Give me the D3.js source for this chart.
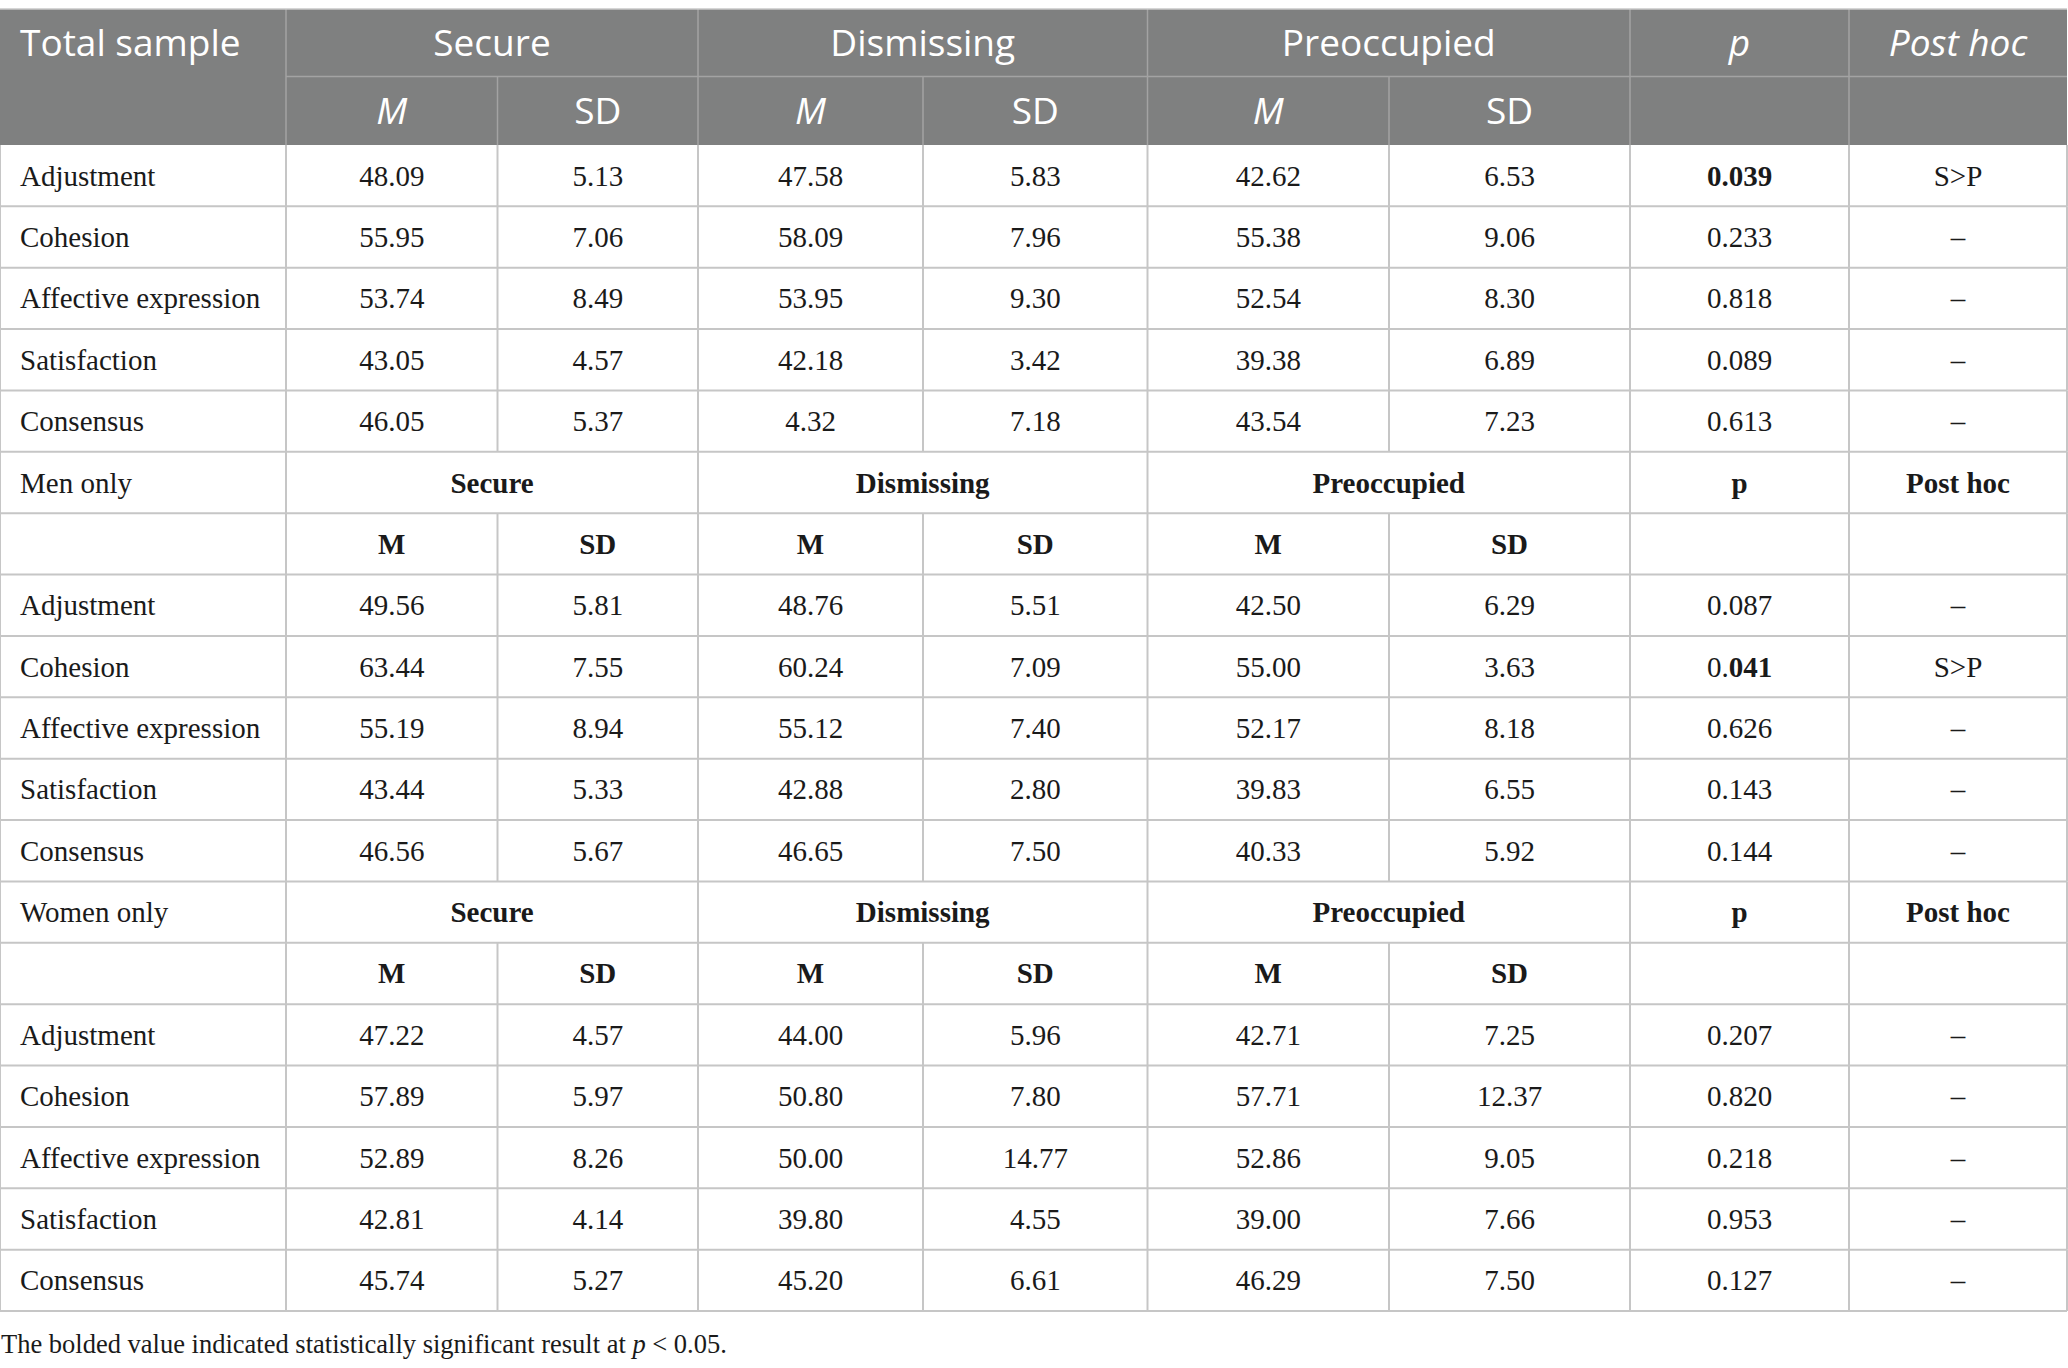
<!DOCTYPE html>
<html>
<head>
<meta charset="utf-8">
<script src="https://cdn.jsdelivr.net/npm/d3@7"></script>
<style>
  body { margin: 0; background: #fff; }
</style>
</head>
<body>
<div id="table"></div>
<script>
// ---- data ----
const groups = ["Secure", "Dismissing", "Preoccupied"];
const measures = ["Adjustment", "Cohesion", "Affective expression", "Satisfaction", "Consensus"];
const samples = ["Total sample", "Men only", "Women only"];

// rows: measures; cols: Secure M, SD, Dismissing M, SD, Preoccupied M, SD
const totalStats = [
    ["48.09", "5.13", "47.58", "5.83", "42.62", "6.53"],
    ["55.95", "7.06", "58.09", "7.96", "55.38", "9.06"],
    ["53.74", "8.49", "53.95", "9.30", "52.54", "8.30"],
    ["43.05", "4.57", "42.18", "3.42", "39.38", "6.89"],
    ["46.05", "5.37", "4.32", "7.18", "43.54", "7.23"]
];
const totalP = ["0.039", "0.233", "0.818", "0.089", "0.613"];
const totalPostHoc = ["S>P", "–", "–", "–", "–"];
const totalBoldFrom = [0, null, null, null, null];

const menStats = [
    ["49.56", "5.81", "48.76", "5.51", "42.50", "6.29"],
    ["63.44", "7.55", "60.24", "7.09", "55.00", "3.63"],
    ["55.19", "8.94", "55.12", "7.40", "52.17", "8.18"],
    ["43.44", "5.33", "42.88", "2.80", "39.83", "6.55"],
    ["46.56", "5.67", "46.65", "7.50", "40.33", "5.92"]
];
const menP = ["0.087", "0.041", "0.626", "0.143", "0.144"];
const menPostHoc = ["–", "S>P", "–", "–", "–"];
const menBoldFrom = [null, 2, null, null, null];

const womenStats = [
    ["47.22", "4.57", "44.00", "5.96", "42.71", "7.25"],
    ["57.89", "5.97", "50.80", "7.80", "57.71", "12.37"],
    ["52.89", "8.26", "50.00", "14.77", "52.86", "9.05"],
    ["42.81", "4.14", "39.80", "4.55", "39.00", "7.66"],
    ["45.74", "5.27", "45.20", "6.61", "46.29", "7.50"]
];
const womenP = ["0.207", "0.820", "0.218", "0.953", "0.127"];
const womenPostHoc = ["–", "–", "–", "–", "–"];
const womenBoldFrom = [null, null, null, null, null];

const statLabels = ["M", "SD"];
const footnote = "The bolded value indicated statistically significant result at ";

// ---- layout ----
const W = 2068, H = 1368;
const colKeys = ["label", "s0", "s1", "d0", "d1", "p0", "p1", "p", "post"];
const colEdges = [0, 286, 497.5, 698, 923, 1147.5, 1389, 1630, 1849, 2067];
const headTop = 9, headMid = 76.5, bodyTop = 145, bodyBottom = 1311;

const serif = "'Liberation Serif', 'Times New Roman', serif";
const sans = "'Open Sans', 'Noto Sans', sans-serif";
const bodySize = 29, headSize = 37;
const headFill = "#7f8080", headLine = "#a3a3a3", gridLine = "#c6c6c6";

const x = d3.scaleOrdinal().domain(colKeys).range(colEdges.slice(0, -1));
const xRight = d3.scaleOrdinal().domain(colKeys).range(colEdges.slice(1));

const statsBySample = [totalStats, menStats, womenStats];
const pBySample = [totalP, menP, womenP];
const postBySample = [totalPostHoc, menPostHoc, womenPostHoc];
const boldBySample = [totalBoldFrom, menBoldFrom, womenBoldFrom];

// body rows: total (5), then for men/women: group row, M/SD row, 5 measures
const bodyRows = [];
samples.forEach((s, si) => {
    if (si > 0) {
        bodyRows.push({type: "group", sample: s});
        bodyRows.push({type: "sub"});
    }
    measures.forEach((m, mi) => {
        bodyRows.push({
            type: "data", label: m,
            stats: statsBySample[si][mi],
            p: pBySample[si][mi],
            post: postBySample[si][mi],
            boldFrom: boldBySample[si][mi]
        });
    });
});

const y = d3.scaleBand()
    .domain(d3.range(bodyRows.length))
    .range([bodyTop, bodyBottom])
    .padding(0);

const svg = d3.select("#table").append("svg")
    .attr("width", W)
    .attr("height", H);

// span cells: [startKey, endKey, text]
function groupSpans() {
    return [
        ["s0", "s1", groups[0]],
        ["d0", "d1", groups[1]],
        ["p0", "p1", groups[2]]
    ];
}
const statCols = ["s0", "s1", "d0", "d1", "p0", "p1"];

// ---- header ----
const head = svg.append("g");
head.append("rect")
    .attr("x", 0).attr("y", headTop)
    .attr("width", colEdges[colEdges.length - 1]).attr("height", bodyTop - headTop)
    .attr("fill", headFill);

function headText(xPos, yPos, txt, anchor, italic) {
    head.append("text")
        .attr("x", xPos).attr("y", yPos)
        .attr("text-anchor", anchor)
        .attr("fill", "#fff")
        .style("font-family", sans)
        .style("font-size", headSize + "px")
        .style("font-style", italic ? "italic" : "normal")
        .text(txt);
}
const h1y = (headTop + headMid) / 2 + 13;
const h2y = (headMid + bodyTop) / 2 + 13;
headText(x("label") + 20, h1y, samples[0], "start", false);
groupSpans().forEach(([a, b, t]) => {
    headText((x(a) + xRight(b)) / 2, h1y, t, "middle", false);
});
headText((x("p") + xRight("p")) / 2, h1y, "p", "middle", true);
headText((x("post") + xRight("post")) / 2, h1y, "Post hoc", "middle", true);
statCols.forEach((c, i) => {
    headText((x(c) + xRight(c)) / 2, h2y, statLabels[i % 2], "middle", i % 2 === 0);
});

// header lines
head.append("line")
    .attr("x1", x("s0")).attr("x2", colEdges[colEdges.length - 1])
    .attr("y1", headMid).attr("y2", headMid)
    .attr("stroke", headLine).attr("stroke-width", 1.5);
["s0", "d0", "p0", "p", "post"].forEach(k => {
    head.append("line")
        .attr("x1", x(k)).attr("x2", x(k))
        .attr("y1", headTop).attr("y2", bodyTop)
        .attr("stroke", headLine).attr("stroke-width", 1.5);
});
["s1", "d1", "p1"].forEach(k => {
    head.append("line")
        .attr("x1", x(k)).attr("x2", x(k))
        .attr("y1", headMid).attr("y2", bodyTop)
        .attr("stroke", headLine).attr("stroke-width", 1.5);
});
head.append("line")
    .attr("x1", 0).attr("x2", colEdges[colEdges.length - 1])
    .attr("y1", headTop).attr("y2", headTop)
    .attr("stroke", "#c8c8c8").attr("stroke-width", 1.5);

// ---- body ----
const body = svg.append("g");

function cellText(g, xPos, yPos, anchor, bold) {
    return g.append("text")
        .attr("x", xPos).attr("y", yPos)
        .attr("text-anchor", anchor)
        .attr("fill", "#1a1a1a")
        .style("font-family", serif)
        .style("font-size", bodySize + "px")
        .style("font-weight", bold ? "bold" : "normal");
}
const mid = k => (x(k) + xRight(k)) / 2;

bodyRows.forEach((r, i) => {
    const top = y(i), bot = top + y.bandwidth();
    const ty = top + y.bandwidth() / 2 + 10;
    const g = body.append("g");

    // vertical lines for this row
    let vKeys;
    if (r.type === "group") vKeys = ["s0", "d0", "p0", "p", "post"];
    else vKeys = colKeys.slice(1);
    vKeys.forEach(k => {
        g.append("line")
            .attr("x1", x(k)).attr("x2", x(k))
            .attr("y1", top).attr("y2", bot)
            .attr("stroke", gridLine).attr("stroke-width", 2);
    });
    [0, colEdges[colEdges.length - 1]].forEach(xx => {
        g.append("line")
            .attr("x1", xx).attr("x2", xx)
            .attr("y1", top).attr("y2", bot)
            .attr("stroke", gridLine).attr("stroke-width", 2);
    });
    g.append("line")
        .attr("x1", 0).attr("x2", colEdges[colEdges.length - 1])
        .attr("y1", bot).attr("y2", bot)
        .attr("stroke", gridLine).attr("stroke-width", 2);

    if (r.type === "group") {
        cellText(g, x("label") + 20, ty, "start", false).text(r.sample);
        groupSpans().forEach(([a, b, t]) => {
            cellText(g, (x(a) + xRight(b)) / 2, ty, "middle", true).text(t);
        });
        cellText(g, mid("p"), ty, "middle", true).text("p");
        cellText(g, mid("post"), ty, "middle", true).text("Post hoc");
    } else if (r.type === "sub") {
        statCols.forEach((c, j) => {
            cellText(g, mid(c), ty, "middle", true).text(statLabels[j % 2]);
        });
    } else {
        cellText(g, x("label") + 20, ty, "start", false).text(r.label);
        statCols.forEach((c, j) => {
            cellText(g, mid(c), ty, "middle", false).text(r.stats[j]);
        });
        const pt = cellText(g, mid("p"), ty, "middle", false);
        if (r.boldFrom === null) {
            pt.text(r.p);
        } else {
            if (r.boldFrom > 0) pt.append("tspan").text(r.p.slice(0, r.boldFrom));
            pt.append("tspan").style("font-weight", "bold").text(r.p.slice(r.boldFrom));
        }
        cellText(g, mid("post"), ty, "middle", false).text(r.post);
    }
});

// ---- footnote ----
const fn = svg.append("text")
    .attr("x", 1).attr("y", bodyBottom + 42)
    .attr("fill", "#1a1a1a")
    .style("font-family", serif)
    .style("font-size", "26.5px");
fn.append("tspan").text(footnote);
fn.append("tspan").style("font-style", "italic").text("p");
fn.append("tspan").text(" < 0.05.");
</script>
</body>
</html>
